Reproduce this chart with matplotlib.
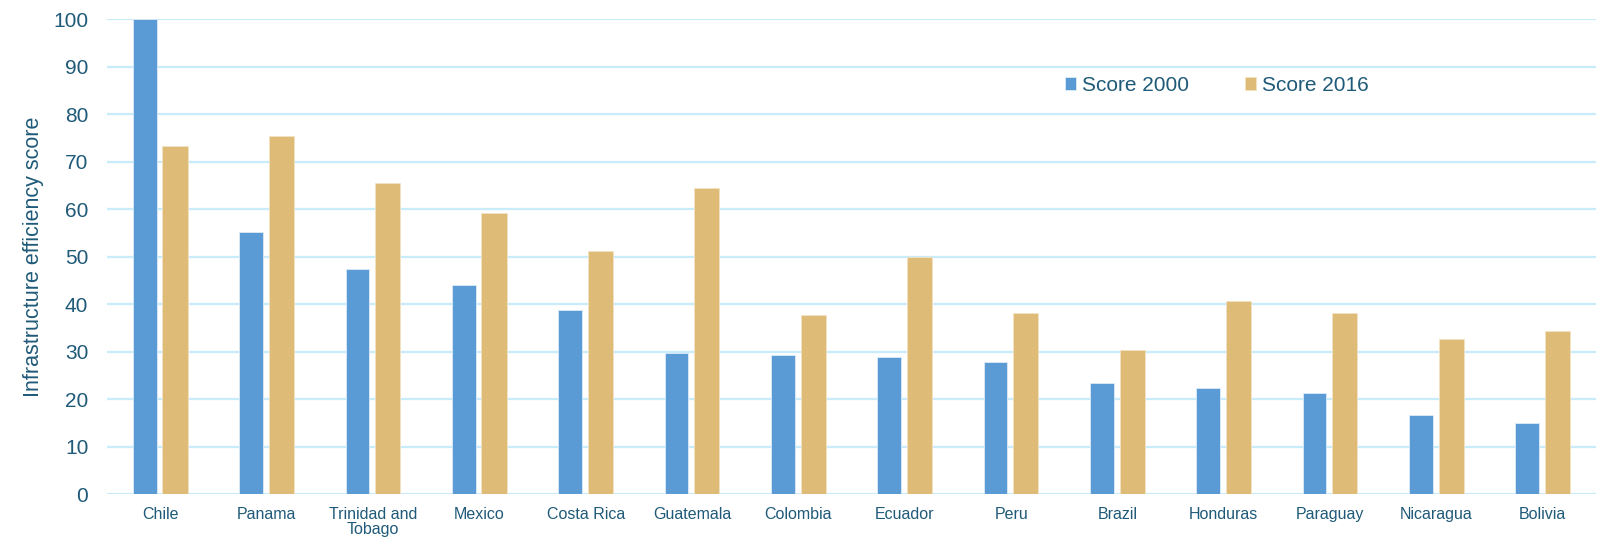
import matplotlib
matplotlib.use("Agg")
import matplotlib.pyplot as plt
import numpy as np

countries = ["Chile", "Panama", "Trinidad and\nTobago", "Mexico", "Costa Rica", "Guatemala",
             "Colombia", "Ecuador", "Peru", "Brazil", "Honduras", "Paraguay", "Nicaragua", "Bolivia"]
score_2000 = [100.0, 55.2, 47.4, 44.0, 38.8, 29.7, 29.3, 28.9, 27.8, 23.5, 22.3, 21.3, 16.8, 15.1]
score_2016 = [73.3, 75.4, 65.5, 59.3, 51.3, 64.4, 37.8, 50.0, 38.1, 30.4, 40.6, 38.1, 32.7, 34.4]
y_ticks = [0, 10, 20, 30, 40, 50, 60, 70, 80, 90, 100]

plt.rcParams['font.family'] = ['Liberation Sans', 'DejaVu Sans']
text_color = '#1F5A78'
blue = '#5B9BD5'
tan = '#DFBB78'
grid_color = '#C9ECFA'

W, H = 1608, 539
left, right, top, bottom = 107.3, 1596, 19.3, 494.3
fig = plt.figure(figsize=(W / 100, H / 100), dpi=100)
ax = fig.add_axes([left / W, 1 - bottom / H, (right - left) / W, (bottom - top) / H])

x = np.arange(len(countries))
ax.bar(x - 0.147, score_2000, width=0.223, color=blue, edgecolor='#DDEBF7', linewidth=0.6,
       label='Score 2000', zorder=3)
ax.bar(x + 0.138, score_2016, width=0.238, color=tan, edgecolor='#F3E3C3', linewidth=0.6,
       label='Score 2016', zorder=3)

ax.set_xlim(-0.5, len(countries) - 0.5)
ax.set_ylim(0, 100)
ax.set_yticks(y_ticks)
ax.set_xticks(x)
ax.set_xticklabels(countries, fontsize=11.5, color=text_color, linespacing=1.0)
ax.tick_params(axis='y', labelsize=15, colors=text_color, length=0, pad=13.7)
ax.tick_params(axis='x', length=0, pad=9)
for s in ax.spines.values():
    s.set_visible(False)
ax.yaxis.grid(True, color=grid_color, linewidth=1.6, zorder=0)
ax.set_axisbelow(True)
ax.set_ylabel('Infrastructure efficiency score', fontsize=15.5, color=text_color)
ax.yaxis.set_label_coords(-(left - 44) / (right - left), 0.5)

leg = ax.legend(loc='center left', bbox_to_anchor=((1065 - left) / (right - left), (bottom - 85.5) / (bottom - top)),
                ncol=2, frameon=False,
                fontsize=15, handlelength=0.55, handleheight=0.55, handletextpad=0.25,
                columnspacing=2.7, borderaxespad=0, borderpad=0)
for t in leg.get_texts():
    t.set_color(text_color)

fig.savefig('out.png', dpi=100)
